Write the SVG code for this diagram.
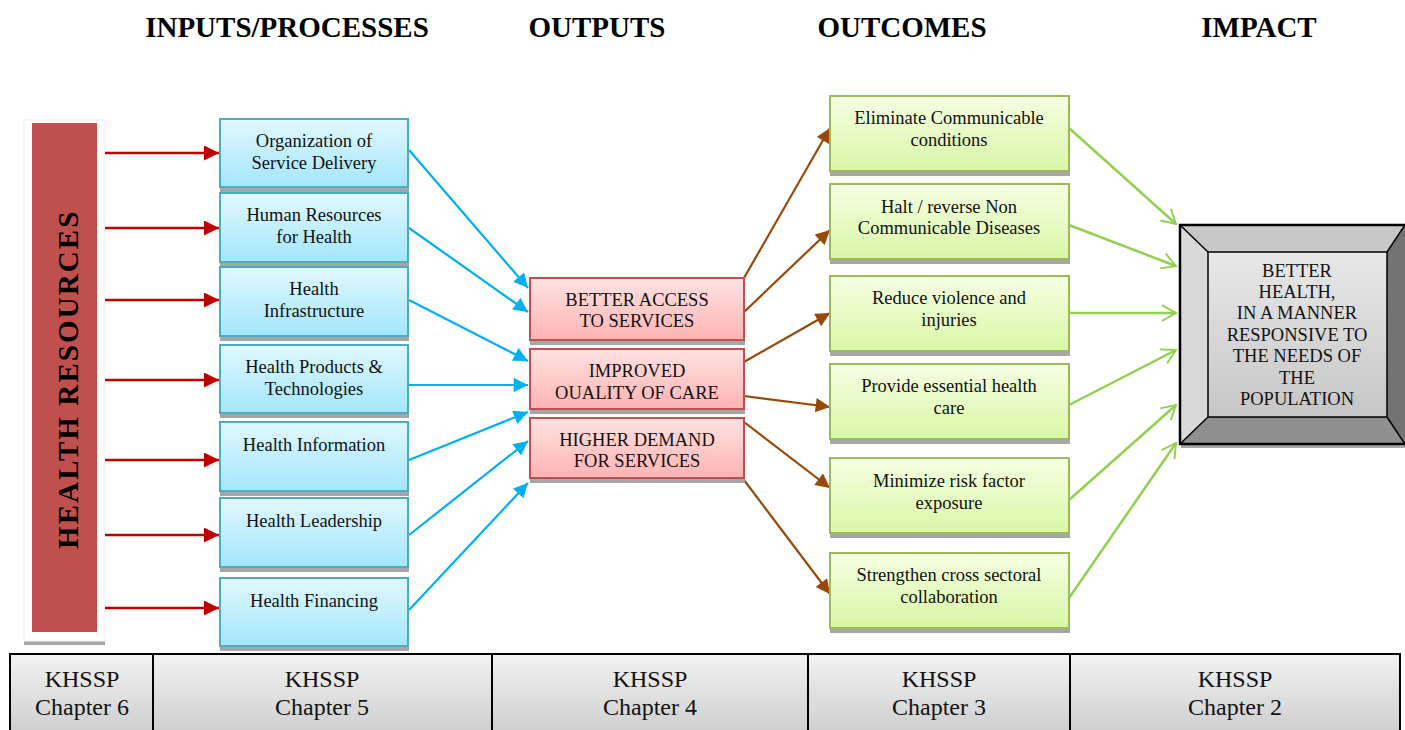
<svg xmlns="http://www.w3.org/2000/svg" width="1405" height="730" viewBox="0 0 1405 730">
<defs>
<linearGradient id="gBlue" x1="0" y1="0" x2="0" y2="1"><stop offset="0" stop-color="#e2f8ff"/><stop offset="1" stop-color="#a3e6fb"/></linearGradient>
<linearGradient id="gPink" x1="0" y1="0" x2="0" y2="1"><stop offset="0" stop-color="#ffe2e2"/><stop offset="1" stop-color="#ffb3b3"/></linearGradient>
<linearGradient id="gGreen" x1="0" y1="0" x2="0" y2="1"><stop offset="0" stop-color="#f5ffe3"/><stop offset="1" stop-color="#d9f6a6"/></linearGradient>
<linearGradient id="gGray" x1="0" y1="0" x2="0" y2="1"><stop offset="0" stop-color="#f2f2f2"/><stop offset="1" stop-color="#cfcfcf"/></linearGradient>
<linearGradient id="gInner" x1="0" y1="0" x2="0" y2="1"><stop offset="0" stop-color="#e8e8e8"/><stop offset="1" stop-color="#c6c6c6"/></linearGradient>
<marker id="aRed" viewBox="0 0 10 10" refX="10" refY="5" markerWidth="6" markerHeight="6" orient="auto" markerUnits="strokeWidth"><path d="M0,0 L10,5 L0,10 z" fill="#c00000"/></marker>
<marker id="aBlue" viewBox="0 0 10 10" refX="10" refY="5" markerWidth="7" markerHeight="6.5" orient="auto" markerUnits="strokeWidth"><path d="M0,0 L10,5 L0,10 z" fill="#00b0f0"/></marker>
<marker id="aBrown" viewBox="0 0 10 10" refX="10" refY="5" markerWidth="7" markerHeight="6.5" orient="auto" markerUnits="strokeWidth"><path d="M0,0 L10,5 L0,10 z" fill="#984807"/></marker>
<marker id="aGreen" viewBox="0 0 10 10" refX="9" refY="5" markerWidth="7" markerHeight="7" orient="auto" markerUnits="strokeWidth"><path d="M1,0.5 L9,5 L1,9.5" fill="none" stroke="#92d050" stroke-width="1.1"/></marker>
</defs>
<style>
.h{font-weight:bold;font-size:29px;text-anchor:middle;fill:#000}
.t{font-size:18.5px;text-anchor:middle;fill:#111}
.o{font-size:18.5px;text-anchor:middle;fill:#111}
.k{font-size:24px;text-anchor:middle;fill:#111}
.sh{fill:#a6a6a6}
.bin{fill:url(#gBlue);stroke:#4bacc6;stroke-width:2}
.bout{fill:url(#gPink);stroke:#c0504d;stroke-width:2}
.boc{fill:url(#gGreen);stroke:#9bbb59;stroke-width:2}
.cell{fill:url(#gGray);stroke:#000;stroke-width:2}
.red{stroke:#c00000;stroke-width:2.5;fill:none;marker-end:url(#aRed)}
.blue{stroke:#00b0f0;stroke-width:2.2;fill:none;marker-end:url(#aBlue)}
.brown{stroke:#984807;stroke-width:2.2;fill:none;marker-end:url(#aBrown)}
.green{stroke:#92d050;stroke-width:2.5;fill:none;marker-end:url(#aGreen)}
</style>
<rect width="1405" height="730" fill="#fff"/>
<g font-family="Liberation Serif, Times New Roman, Times, serif">
<g id="headings">
<text class="h" x="287" y="37">INPUTS/PROCESSES</text>
<text class="h" x="597" y="37">OUTPUTS</text>
<text class="h" x="902" y="37">OUTCOMES</text>
<text class="h" x="1259" y="37">IMPACT</text>
</g>
<g id="health-resources">
<rect x="24" y="641" width="81" height="4" class="sh"/>
<rect x="24" y="120" width="81" height="521" fill="#fff" stroke="#eeeeee" stroke-width="1"/>
<rect x="32" y="123" width="65" height="509" fill="#c0504d"/>
<text x="0" y="0" transform="translate(78,549) rotate(-90)" font-weight="bold" font-size="29" fill="#000" letter-spacing="2.1">HEALTH RESOURCES</text>
</g>
<g id="connectors">
<line class="red" x1="105" y1="153" x2="219" y2="153"/>
<line class="red" x1="105" y1="228" x2="219" y2="228"/>
<line class="red" x1="105" y1="300" x2="219" y2="300"/>
<line class="red" x1="105" y1="380" x2="219" y2="380"/>
<line class="red" x1="105" y1="460" x2="219" y2="460"/>
<line class="red" x1="105" y1="535" x2="219" y2="535"/>
<line class="red" x1="105" y1="608" x2="219" y2="608"/>
<line class="blue" x1="409" y1="150" x2="528" y2="288"/>
<line class="blue" x1="409" y1="228" x2="528" y2="312"/>
<line class="blue" x1="409" y1="300" x2="528" y2="361"/>
<line class="blue" x1="409" y1="385" x2="528" y2="385"/>
<line class="blue" x1="409" y1="460" x2="528" y2="412"/>
<line class="blue" x1="409" y1="535" x2="528" y2="441"/>
<line class="blue" x1="409" y1="610" x2="528" y2="483"/>
<line class="brown" x1="744" y1="278" x2="830" y2="128"/>
<line class="brown" x1="744" y1="312" x2="830" y2="230"/>
<line class="brown" x1="744" y1="362" x2="830" y2="313"/>
<line class="brown" x1="744" y1="396" x2="830" y2="407"/>
<line class="brown" x1="744" y1="422" x2="830" y2="488"/>
<line class="brown" x1="744" y1="480" x2="830" y2="594"/>
<line class="green" x1="1069" y1="128" x2="1176" y2="224"/>
<line class="green" x1="1069" y1="225" x2="1176" y2="266"/>
<line class="green" x1="1069" y1="313" x2="1176" y2="313"/>
<line class="green" x1="1069" y1="405" x2="1176" y2="350"/>
<line class="green" x1="1069" y1="500" x2="1176" y2="405"/>
<line class="green" x1="1069" y1="598" x2="1176" y2="443"/>
</g>
<g id="in1"><rect x="220" y="188" width="189" height="4" class="sh"/><rect x="220" y="119" width="188" height="68" class="bin"/><text class="t" x="314" y="147">Organization of</text><text class="t" x="314" y="169">Service Delivery</text></g>
<g id="in2"><rect x="220" y="263" width="189" height="4" class="sh"/><rect x="220" y="193" width="188" height="69" class="bin"/><text class="t" x="314" y="221">Human Resources</text><text class="t" x="314" y="243">for Health</text></g>
<g id="in3"><rect x="220" y="337" width="189" height="4" class="sh"/><rect x="220" y="267" width="188" height="69" class="bin"/><text class="t" x="314" y="295">Health</text><text class="t" x="314" y="317">Infrastructure</text></g>
<g id="in4"><rect x="220" y="414" width="189" height="4" class="sh"/><rect x="220" y="345" width="188" height="68" class="bin"/><text class="t" x="314" y="373">Health Products &amp;</text><text class="t" x="314" y="395">Technologies</text></g>
<g id="in5"><rect x="220" y="492" width="189" height="4" class="sh"/><rect x="220" y="422" width="188" height="69" class="bin"/><text class="t" x="314" y="451">Health Information</text></g>
<g id="in6"><rect x="220" y="568" width="189" height="4" class="sh"/><rect x="220" y="498" width="188" height="69" class="bin"/><text class="t" x="314" y="527">Health Leadership</text></g>
<g id="in7"><rect x="220" y="647" width="189" height="4" class="sh"/><rect x="220" y="578" width="188" height="68" class="bin"/><text class="t" x="314" y="607">Health Financing</text></g>
<g id="out1"><rect x="530" y="341" width="215" height="4" class="sh"/><rect x="530" y="278" width="214" height="62" class="bout"/><text class="o" x="637" y="306">BETTER ACCESS</text><text class="o" x="637" y="327">TO SERVICES</text></g>
<g id="out2"><rect x="530" y="410" width="215" height="4" class="sh"/><rect x="530" y="349" width="214" height="60" class="bout"/><text class="o" x="637" y="377">IMPROVED</text><text class="o" x="637" y="399">OUALITY OF CARE</text></g>
<g id="out3"><rect x="530" y="479" width="215" height="4" class="sh"/><rect x="530" y="418" width="214" height="60" class="bout"/><text class="o" x="637" y="446">HIGHER DEMAND</text><text class="o" x="637" y="467">FOR SERVICES</text></g>
<g id="oc1"><rect x="830" y="172" width="240" height="4" class="sh"/><rect x="830" y="96" width="239" height="75" class="boc"/><text class="t" x="949" y="124">Eliminate Communicable</text><text class="t" x="949" y="146">conditions</text></g>
<g id="oc2"><rect x="830" y="260" width="240" height="4" class="sh"/><rect x="830" y="184" width="239" height="75" class="boc"/><text class="t" x="949" y="213">Halt / reverse Non</text><text class="t" x="949" y="234">Communicable Diseases</text></g>
<g id="oc3"><rect x="830" y="352" width="240" height="4" class="sh"/><rect x="830" y="276" width="239" height="75" class="boc"/><text class="t" x="949" y="304">Reduce violence and</text><text class="t" x="949" y="326">injuries</text></g>
<g id="oc4"><rect x="830" y="440" width="240" height="4" class="sh"/><rect x="830" y="364" width="239" height="75" class="boc"/><text class="t" x="949" y="392">Provide essential health</text><text class="t" x="949" y="414">care</text></g>
<g id="oc5"><rect x="830" y="534" width="240" height="4" class="sh"/><rect x="830" y="458" width="239" height="75" class="boc"/><text class="t" x="949" y="487">Minimize risk factor</text><text class="t" x="949" y="509">exposure</text></g>
<g id="oc6"><rect x="830" y="629" width="240" height="4" class="sh"/><rect x="830" y="553" width="239" height="75" class="boc"/><text class="t" x="949" y="581">Strengthen cross sectoral</text><text class="t" x="949" y="603">collaboration</text></g>
<g id="impact">
<rect x="1181" y="444" width="224" height="4" class="sh"/>
<polygon points="1180,225 1405,225 1387,252 1208,252" fill="#c8c8c8"/>
<polygon points="1180,225 1208,252 1208,417 1180,444" fill="#d9d9d9"/>
<polygon points="1405,225 1405,444 1387,417 1387,252" fill="#737373"/>
<polygon points="1180,444 1208,417 1387,417 1405,444" fill="#8f8f8f"/>
<rect x="1208" y="252" width="179" height="165" fill="url(#gInner)" stroke="#000" stroke-width="1.5"/>
<line x1="1180" y1="225" x2="1208" y2="252" stroke="#000" stroke-width="1.5"/>
<line x1="1180" y1="444" x2="1208" y2="417" stroke="#000" stroke-width="1.5"/>
<line x1="1405" y1="225" x2="1387" y2="252" stroke="#000" stroke-width="1.5"/>
<line x1="1405" y1="444" x2="1387" y2="417" stroke="#000" stroke-width="1.5"/>
<rect x="1180" y="225" width="230" height="219" fill="none" stroke="#000" stroke-width="2.5"/>
<text class="t" x="1297" y="277">BETTER</text>
<text class="t" x="1297" y="298">HEALTH,</text>
<text class="t" x="1297" y="319">IN A MANNER</text>
<text class="t" x="1297" y="341">RESPONSIVE TO</text>
<text class="t" x="1297" y="362">THE NEEDS OF</text>
<text class="t" x="1297" y="384">THE</text>
<text class="t" x="1297" y="405">POPULATION</text>
</g>
<g id="ch6"><rect x="10" y="654" width="143" height="78" class="cell"/><text class="k" x="82" y="687">KHSSP</text><text class="k" x="82" y="715">Chapter 6</text></g>
<g id="ch5"><rect x="153" y="654" width="339" height="78" class="cell"/><text class="k" x="322" y="687">KHSSP</text><text class="k" x="322" y="715">Chapter 5</text></g>
<g id="ch4"><rect x="492" y="654" width="316" height="78" class="cell"/><text class="k" x="650" y="687">KHSSP</text><text class="k" x="650" y="715">Chapter 4</text></g>
<g id="ch3"><rect x="808" y="654" width="262" height="78" class="cell"/><text class="k" x="939" y="687">KHSSP</text><text class="k" x="939" y="715">Chapter 3</text></g>
<g id="ch2"><rect x="1070" y="654" width="330" height="78" class="cell"/><text class="k" x="1235" y="687">KHSSP</text><text class="k" x="1235" y="715">Chapter 2</text></g>
</g>
</svg>
